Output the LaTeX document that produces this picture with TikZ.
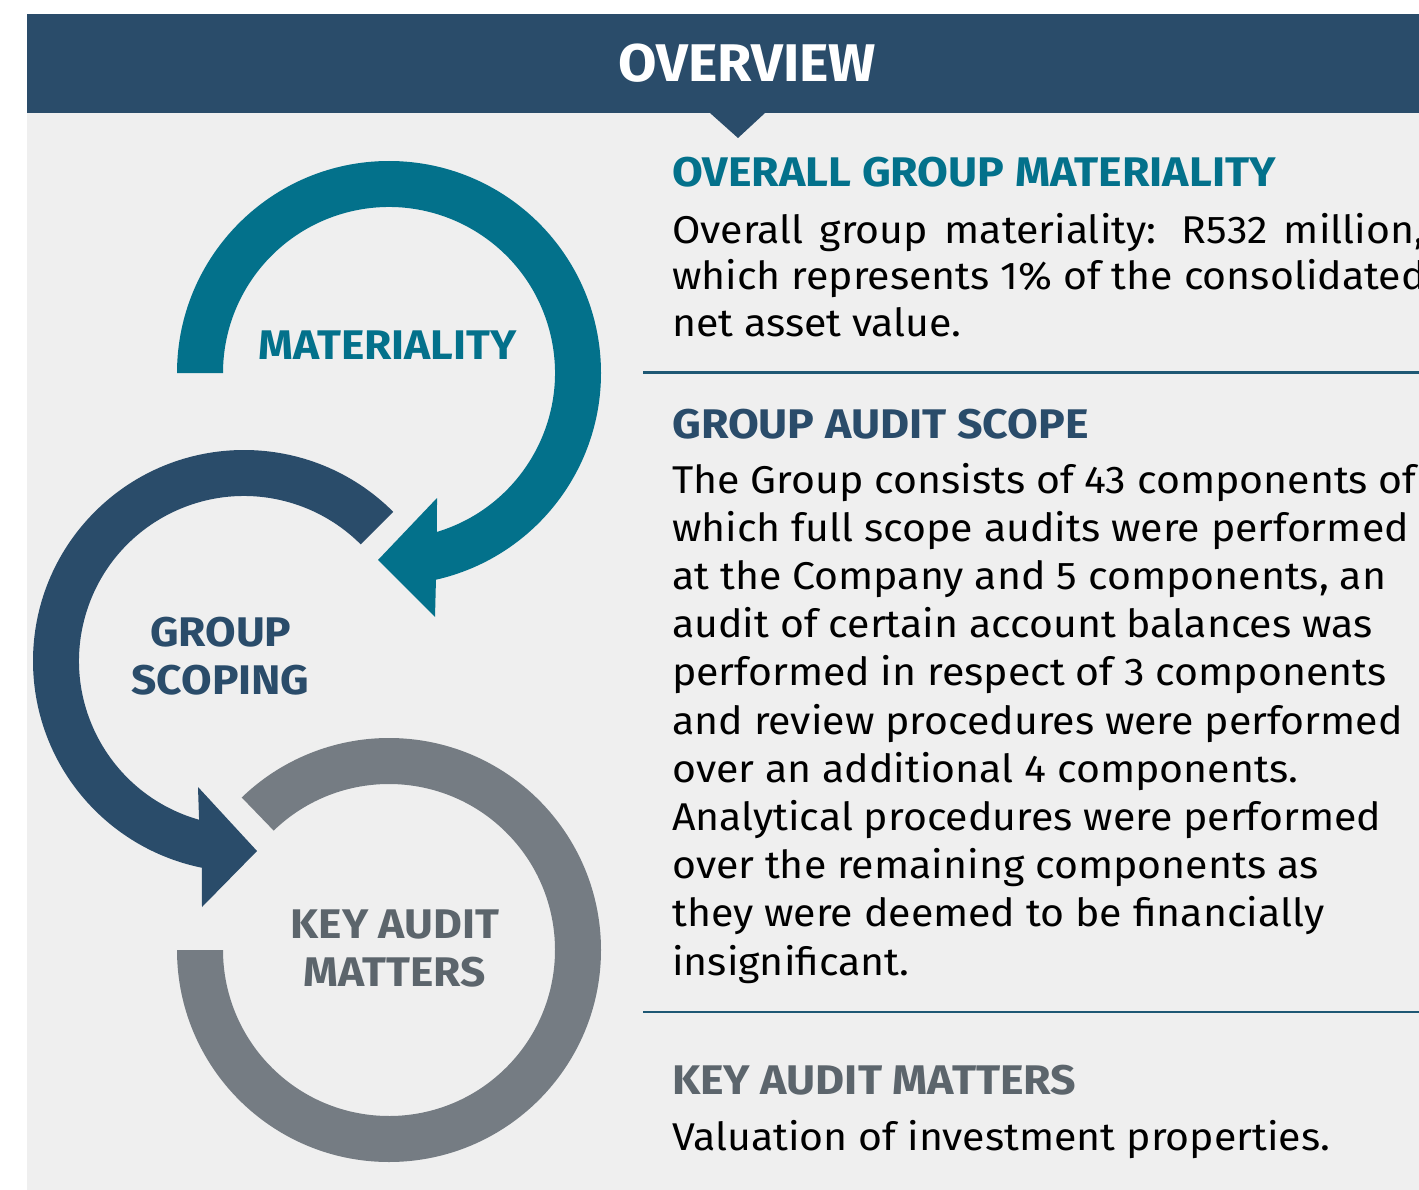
\documentclass[tikz,border=0pt]{standalone}
\usepackage{fontspec}
\usepackage{graphicx}
\usetikzlibrary{calc}
\setmainfont{Fira Sans}

\definecolor{cteal}{RGB}{3,113,139}
\definecolor{cnavy}{RGB}{42,76,106}
\definecolor{cring}{RGB}{117,124,131}
\definecolor{cgraytxt}{RGB}{92,101,108}
\definecolor{cpanel}{RGB}{239,239,239}
\definecolor{crule}{RGB}{30,88,116}

% type sizes (1pt = 1 unit of the picture)
\newlength\natw
\newcommand\bodysize{\fontsize{38.7}{46}\selectfont}
\newcommand\headsize{\fontsize{41.4}{48}\selectfont\bfseries}
\newcommand\titlesize{\fontsize{53}{60}\selectfont\bfseries}

% condensed setting of each text style
\newcommand\bodyline[1]{\scalebox{\bx}[1]{\bodysize #1}}
\newcommand\headline[1]{\scalebox{\hx}[1]{\headsize #1}}
\newcommand\ringlabel[1]{\scalebox{\lx}[1]{\headsize #1}}
\newcommand\titleline[1]{\scalebox{\tx}[1]{\titlesize #1}}

\begin{document}
\settowidth\natw{\bodysize which full scope audits were performed}
\pgfmathsetmacro\bx{736.7/\natw}
\settowidth\natw{\headsize OVERALL GROUP MATERIALITY}
\pgfmathsetmacro\hx{603.6/\natw}
\settowidth\natw{\headsize MATERIALITY}
\pgfmathsetmacro\lx{258.3/\natw}
\settowidth\natw{\titlesize OVERVIEW}
\pgfmathsetmacro\tx{257.9/\natw}
\pgfmathsetmacro\jw{752/\bx}

\begin{tikzpicture}[x=1pt,y=-1pt,
  body/.style={anchor=base west,inner sep=0pt,text=black},
  head/.style={anchor=base west,inner sep=0pt},
  lab/.style={anchor=base,inner sep=0pt},
  rule/.style={draw=crule,line width=2.4pt}]

\useasboundingbox (0,0) rectangle (1419,1190);
\clip (0,0) rectangle (1419,1190);

% panel and title bar
\fill[cpanel] (27,113) rectangle (1419,1190);
\fill[cnavy] (27,14) rectangle (1419,113.5);
\fill[cnavy] (710,113) -- (765,113) -- (738,138) -- cycle;
\node[lab,text=white] (title) at (747,82) {\titleline{OVERVIEW}};

% materiality arrow
\fill[cteal] ($(389,373)+(180:212)$) arc[start angle=180,end angle=437.2,radius=212]
  -- (435,617) -- (378,560) -- (437,498)
  -- ($(389,373)+(433.2:166)$) arc[start angle=433.2,end angle=180,radius=166] -- cycle;

% group scoping arrow
\fill[cnavy] ($(244,661)+(-45:211)$) arc[start angle=-45,end angle=-258.5,radius=211]
  -- (202,907) -- (257,851) -- (198,787)
  -- ($(244,661)+(-254.2:165)$) arc[start angle=-254.2,end angle=-45,radius=165] -- cycle;

% key audit matters ring
\fill[cring] ($(389,950)+(180:212)$) arc[start angle=180,end angle=-134,radius=212]
  -- ($(389,950)+(-134:166)$) arc[start angle=-134,end angle=180,radius=166] -- cycle;

% ring labels
\node[lab,text=cteal] (lmat) at (387.5,359.3) {\ringlabel{MATERIALITY}};
\node[lab,text=cnavy] (lgrp1) at (220.8,646.7) {\ringlabel{GROUP}};
\node[lab,text=cnavy] (lgrp2) at (220.5,694) {\ringlabel{SCOPING}};
\node[lab,text=cgraytxt] (lkam1) at (395,938.3) {\ringlabel{KEY AUDIT}};
\node[lab,text=cgraytxt] (lkam2) at (395,986) {\ringlabel{MATTERS}};

% materiality section
\node[head,text=cteal] (hmat) at (672,186.7) {\headline{OVERALL GROUP MATERIALITY}};
\node[body] (m1) at (672,243.3) {\scalebox{\bx}[1]{\makebox[\jw pt][s]{\bodysize Overall group materiality: R532 million,}}};
\node[body] (m2) at (672,290) {\bodyline{which represents 1\% of the consolidated}};
\node[body] (m3) at (672,336.7) {\bodyline{net asset value.}};
\draw[rule] (643,372.3) -- (1419,372.3);

% scope section
\node[head,text=cnavy] (hscope) at (672,438.3) {\headline{GROUP AUDIT SCOPE}};
\foreach \t [count=\i] in {
  {The Group consists of 43 components of},
  {which full scope audits were performed},
  {at the Company and 5 components, an},
  {audit of certain account balances was},
  {performed in respect of 3 components},
  {and review procedures were performed},
  {over an additional 4 components.},
  {Analytical procedures were performed},
  {over the remaining components as},
  {they were deemed to be financially},
  {insignificant.}}
  \node[body] (s\i) at (672,{493.3+48.17*(\i-1)}) {\bodyline{\t}};
\draw[rule] (643,1011.7) -- (1419,1011.7);

% key audit matters section
\node[head,text=cgraytxt] (hkam) at (672,1094.3) {\headline{KEY AUDIT MATTERS}};
\node[body] (k1) at (672,1150) {\bodyline{Valuation of investment properties.}};

\end{tikzpicture}
\end{document}
